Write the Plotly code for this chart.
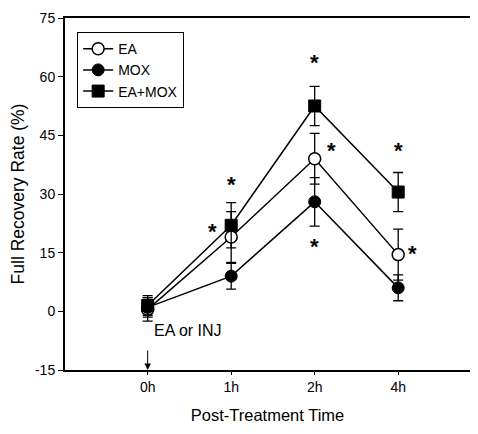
import plotly.graph_objects as go

times = ["0h", "1h", "2h", "4h"]
xpos = [0, 1, 2, 3]
ea = [0.5, 19, 39, 14.5]
ea_err = [3, 6.5, 6.5, 6.5]
mox = [1, 9, 28, 6]
mox_err = [2.5, 3.3, 6.2, 3.3]
eamox = [1.5, 22, 52.5, 30.5]
eamox_err = [2.5, 5.8, 5, 5]
yticks = [-15, 0, 15, 30, 45, 60, 75]
ytick_text = ["-15", "0", "15", "30", "45", "60", "75"]

# asterisk annotations: (x, y)
stars = [(2, 63.5), (2.2, 41), (2, 16.5), (3, 41), (3.17, 14.8), (1, 32.5), (0.78, 20.5)]

FONT = "Liberation Sans, Arial"
fig = go.Figure()
common = dict(mode="lines+markers", line=dict(color="black", width=1.5))
fig.add_trace(go.Scatter(x=xpos, y=ea, name="EA",
    error_y=dict(type="data", array=ea_err, color="black", thickness=1.3, width=5),
    marker=dict(symbol="circle", size=12, color="white", line=dict(color="black", width=1.5)), **common))
fig.add_trace(go.Scatter(x=xpos, y=mox, name="MOX",
    error_y=dict(type="data", array=mox_err, color="black", thickness=1.3, width=5),
    marker=dict(symbol="circle", size=12, color="black", line=dict(color="black", width=1)), **common))
fig.add_trace(go.Scatter(x=xpos, y=eamox, name="EA+MOX",
    error_y=dict(type="data", array=eamox_err, color="black", thickness=1.3, width=5),
    marker=dict(symbol="square", size=12, color="black", line=dict(color="black", width=1)), **common))

for sx, sy in stars:
    fig.add_annotation(x=sx, y=sy, text="<b>*</b>", showarrow=False,
                       font=dict(size=22, color="black", family=FONT))

fig.add_annotation(x=0.05, y=-5, text="EA or INJ", showarrow=False, xanchor="left",
                   font=dict(size=16, color="black", family=FONT))
fig.add_annotation(x=0, y=-15, ax=0, ay=-21, text="", showarrow=True, arrowhead=2,
                   arrowsize=1.3, arrowwidth=1, arrowcolor="black")

fig.update_layout(
    width=462, height=426,
    margin=dict(l=57, r=0, t=10, b=64),
    paper_bgcolor="white", plot_bgcolor="white",
    font=dict(family=FONT, color="black", size=14),
    showlegend=True,
    legend=dict(x=0.03, y=0.96, xanchor="left", yanchor="top",
                bordercolor="black", borderwidth=1, bgcolor="white",
                font=dict(size=14), tracegroupgap=0, itemwidth=30),
    xaxis=dict(range=[-0.99, 3.86], tickvals=xpos, ticktext=times, showgrid=False, zeroline=False,
               showline=True, linecolor="black", linewidth=2, mirror=True, ticks="outside",
               ticklen=3, tickcolor="black",
               tickfont=dict(size=14), automargin=False,
               title=dict(text="Post-Treatment Time", font=dict(size=16.5), standoff=16)),
    yaxis=dict(range=[-15, 75], tickvals=yticks, ticktext=ytick_text, showgrid=False, zeroline=False,
               showline=True, linecolor="black", linewidth=2, ticks="outside", ticklen=5,
               tickcolor="black",
               tickfont=dict(size=14), automargin=False,
               title=dict(text="Full Recovery Rate (%)", font=dict(size=17.5), standoff=8)),
)

fig.write_html("out.html")
